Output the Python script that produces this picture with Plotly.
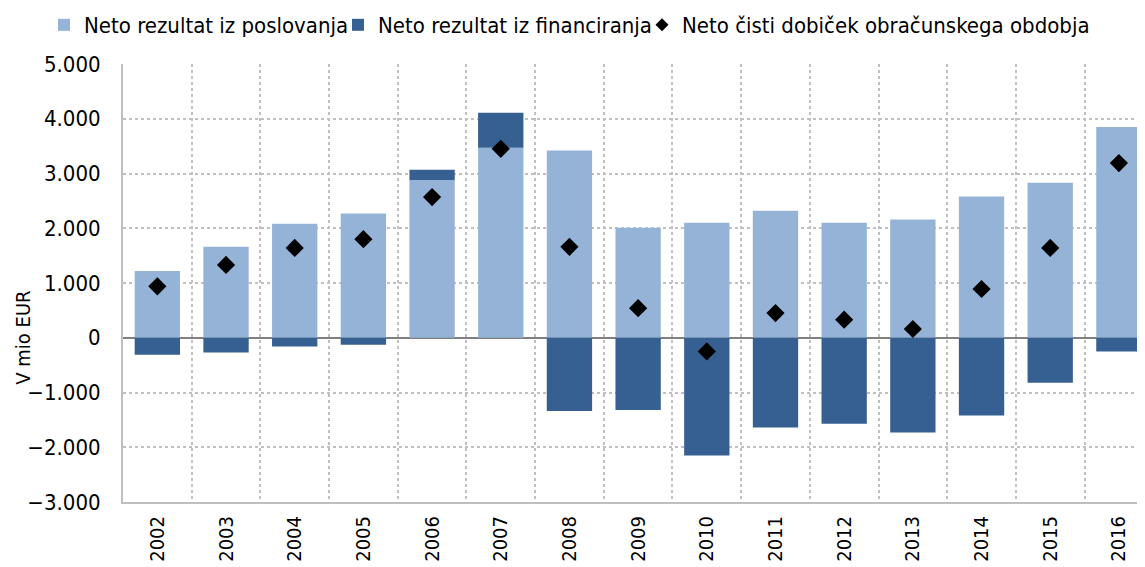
import plotly.graph_objects as go

years = [2002, 2003, 2004, 2005, 2006, 2007, 2008, 2009, 2010, 2011, 2012, 2013, 2014, 2015, 2016]
poslovanje = [1220, 1660, 2080, 2270, 2880, 3470, 3420, 2010, 2100, 2320, 2100, 2160, 2580, 2830, 3850]
financiranje = [-310, -270, -160, -130, 190, 640, -1340, -1320, -2150, -1640, -1570, -1730, -1420, -820, -250]
dobicek = [940, 1330, 1640, 1800, 2570, 3450, 1660, 540, -250, 450, 330, 160, 890, 1640, 3190]

FONT = "DejaVu Sans Condensed, sans-serif"
# the page body has an 8px default margin, so the figure is sized to fill the window from there
OFF = 8
W, H = 1145 - OFF, 567 - OFF
L, T, B = 123 - OFF, 64 - OFF, 65

fig = go.Figure()
fig.add_trace(go.Bar(x=years, y=poslovanje, name="Neto rezultat iz poslovanja",
                     marker=dict(color="#95b3d7", line=dict(width=0)), width=0.66,
                     legend="legend"))
fig.add_trace(go.Bar(x=years, y=financiranje, name="Neto rezultat iz financiranja",
                     marker=dict(color="#376092", line=dict(width=0)), width=0.66,
                     legend="legend2"))
fig.add_trace(go.Scatter(x=years, y=dobicek, name="Neto čisti dobiček obračunskega obdobja",
                         mode="markers", marker=dict(symbol="diamond", size=14, color="black"),
                         showlegend=False))
# legend entry for the markers, with a smaller symbol as in the reference legend
fig.add_trace(go.Scatter(x=[None], y=[None], name="Neto čisti dobiček obračunskega obdobja",
                         mode="markers", marker=dict(symbol="diamond", size=10, color="black"),
                         legend="legend3"))

leg_common = dict(orientation="h", xref="container", yref="container", yanchor="middle",
                  y=1 - (25 - OFF) / H, xanchor="left", font=dict(size=22, family=FONT),
                  bgcolor="rgba(0,0,0,0)", itemwidth=30)

plot_w = W - L
fig.update_layout(
    width=W, height=H,
    barmode="relative",
    separators=",.",
    plot_bgcolor="white", paper_bgcolor="white",
    margin=dict(l=L, r=0, t=T, b=B, autoexpand=False),
    font=dict(family=FONT, size=20, color="black"),
    legend=dict(leg_common, x=36 / W),
    legend2=dict(leg_common, x=330 / W),
    legend3=dict(leg_common, x=634 / W),
    showlegend=True,
    annotations=[dict(text="V mio EUR", textangle=-90, xref="paper", yref="y",
                      x=(23 - OFF - L) / plot_w, y=0, xanchor="center", yanchor="middle",
                      showarrow=False, font=dict(size=20, family=FONT))],
)
fig.update_xaxes(
    range=[2001.5, 2016.38], tickmode="array", tickvals=years, ticktext=[str(y) for y in years],
    tickangle=-90, showgrid=False, ticks="", tickfont=dict(size=20, family=FONT),
    ticklabelstandoff=4,
    showline=True, linecolor="#bfbfbf", linewidth=2, mirror=False,
    minor=dict(tick0=2001.5, dtick=1, showgrid=True, gridcolor="#c0c0c0", griddash="dot", gridwidth=2),
    zeroline=False,
)
fig.update_yaxes(
    range=[-3000, 5000], dtick=1000, tickformat=",", showgrid=True, gridcolor="#c0c0c0",
    griddash="dot", gridwidth=2, zeroline=True, zerolinecolor="#808080", zerolinewidth=2,
    showline=True, linecolor="#bfbfbf", linewidth=2, mirror=True, ticks="", ticklen=0,
    ticklabelstandoff=16,
    tickfont=dict(size=22, family=FONT),
)
fig.write_html("out.html")
